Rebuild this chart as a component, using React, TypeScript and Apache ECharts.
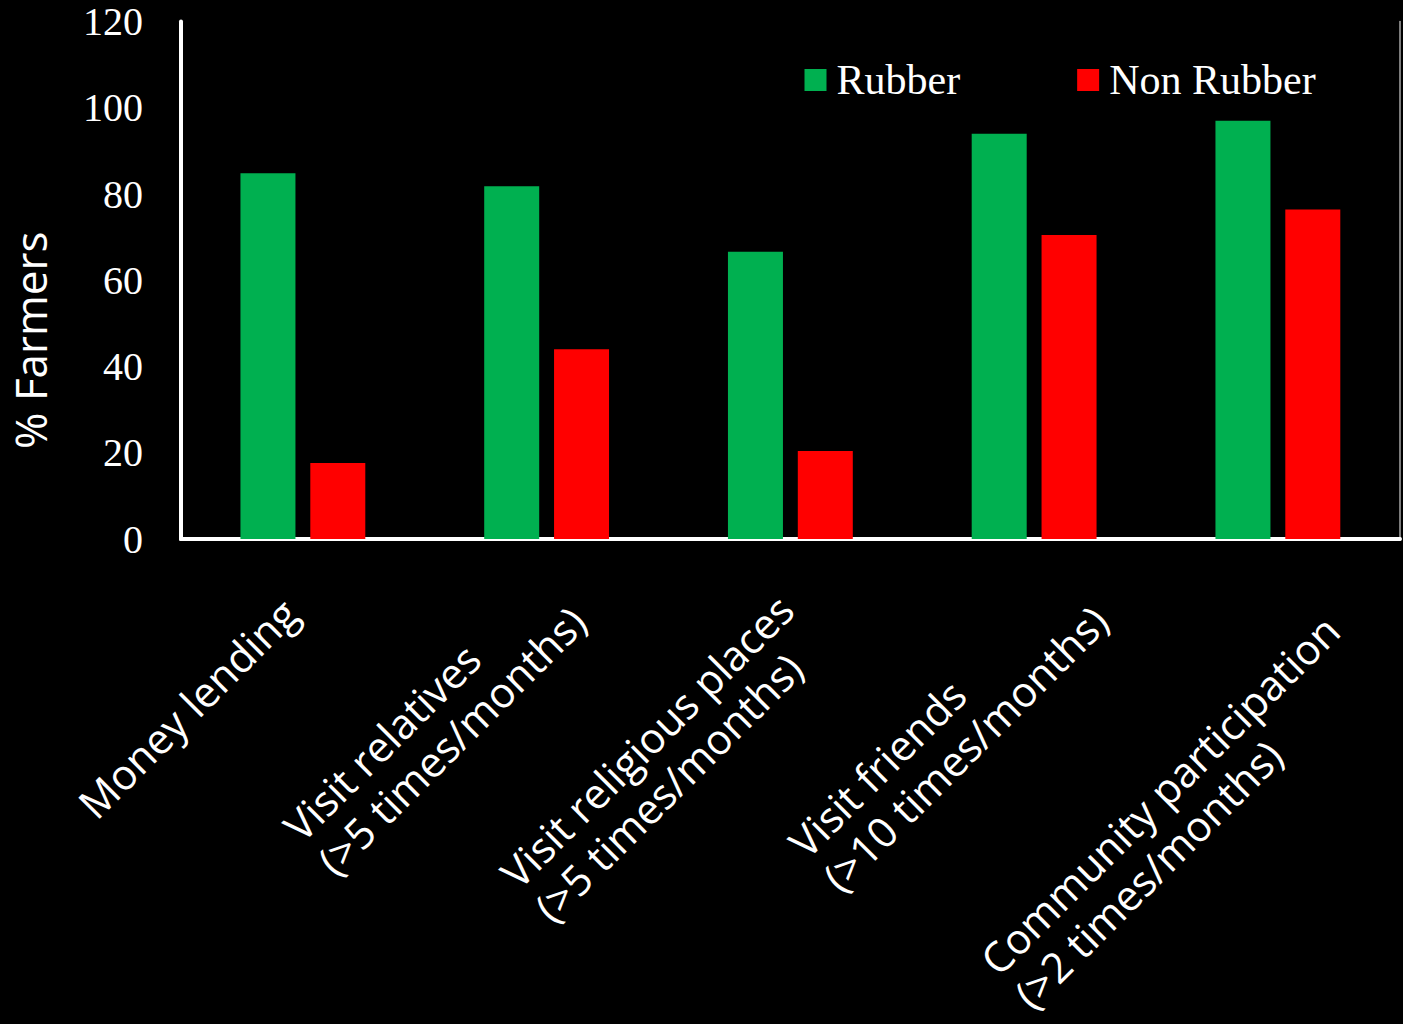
import React, { useEffect, useRef } from "react";
import * as echarts from "echarts";

// Category labels (each entry is one label, lines split by "\n")
const categories = [
  "Money lending",
  "Visit relatives\n(>5 times/months)",
  "Visit religious places\n(>5 times/months)",
  "Visit friends\n(>10 times/months)",
  "Community participation\n(>2 times/months)",
];
const seriesNames = ["Rubber", "Non Rubber"];
const rubber = [84.8, 81.8, 66.6, 94.0, 97.0];
const nonRubber = [17.6, 44.0, 20.4, 70.5, 76.4];
const yMin = 0;
const yMax = 120;
const yStep = 20;

// Label layout tweaks (px): pull back along the text direction, push across it
const labelBack = [50, 25, 42, 0, 15];
const labelAcross = [32, 45, 59, 69, 115];

const SANS = '"Open Sans", "Noto Sans", sans-serif';
const SERIF = '"Liberation Serif", "Times New Roman", serif';
const LABEL_SIZE = 42;
const LABEL_LINE = 48;

function textWidth(text: string, font: string): number {
  const c = document.createElement("canvas").getContext("2d");
  if (!c) return text.length * 20;
  c.font = font;
  return c.measureText(text).width;
}

// One rich style per label line: every line of a label gets the same box width
// so the lines stay left-aligned while the block hangs from its tick.
function buildRich() {
  const rich: Record<string, any> = {};
  categories.forEach((label, i) => {
    const lines = label.split("\n");
    const w = Math.ceil(
      Math.max(...lines.map((l) => textWidth(l, `${LABEL_SIZE}px ${SANS}`)))
    );
    const across = labelAcross[i];
    lines.forEach((_, j) => {
      rich[`c${i}l${j}`] = {
        width: w,
        align: "left",
        fontSize: LABEL_SIZE,
        fontFamily: SANS,
        color: "#ffffff",
        lineHeight: LABEL_LINE,
        padding: [
          across > 0 ? 2 * across : 0,
          labelBack[i],
          across < 0 ? -2 * across : 0,
          0,
        ],
      };
    });
  });
  return rich;
}

export default function App() {
  const ref = useRef<HTMLDivElement>(null);

  useEffect(() => {
    if (!ref.current) return;
    const chart = echarts.init(ref.current, undefined, { renderer: "svg" });
    const rich = buildRich();

    chart.setOption({
      animation: false,
      backgroundColor: "#000000",
      grid: {
        left: 181,
        right: 3.25,
        top: 21.5,
        bottom: 485,
        containLabel: false,
        outerBoundsMode: "none",
      },
      legend: {
        data: seriesNames,
        left: 804.5,
        top: 59,
        padding: 0,
        icon: "rect",
        itemWidth: 22,
        itemHeight: 22,
        itemGap: 117,
        textStyle: {
          color: "#ffffff",
          fontFamily: SERIF,
          fontSize: 42,
          padding: [0, 0, 0, 5],
        },
      },
      xAxis: [
        {
          type: "category",
          data: categories,
          position: "bottom",
          axisLine: { show: true, lineStyle: { color: "#ffffff", width: 4 } },
          axisTick: { show: false },
          splitLine: { show: false },
          axisLabel: {
            interval: 0,
            rotate: 45,
            margin: 8,
            color: "#ffffff",
            fontFamily: SANS,
            fontSize: LABEL_SIZE,
            formatter: (value: string, index: number) =>
              value
                .split("\n")
                .map((l, j) => `{c${index}l${j}|${l}}`)
                .join("\n"),
            rich,
          },
        },
        {
          // top edge of the plot frame
          type: "category",
          data: categories,
          position: "top",
          axisLine: { show: true, lineStyle: { color: "#ffffff", width: 4 } },
          axisTick: { show: false },
          axisLabel: { show: false },
          splitLine: { show: false },
        },
      ],
      yAxis: [
        {
          type: "value",
          min: yMin,
          max: yMax,
          interval: yStep,
          position: "left",
          axisLine: { show: true, lineStyle: { color: "#ffffff", width: 4 } },
          axisTick: { show: false },
          splitLine: { show: false },
          axisLabel: {
            color: "#ffffff",
            fontFamily: SERIF,
            fontSize: 40,
            margin: 38,
          },
          name: "% Farmers",
          nameLocation: "middle",
          nameRotate: 90,
          nameGap: 129,
          nameTextStyle: {
            color: "#ffffff",
            fontFamily: SANS,
            fontSize: 44,
            padding: [0, 120, 0, 0],
          },
        },
        {
          // right edge of the plot frame
          type: "value",
          min: yMin,
          max: yMax,
          interval: yStep,
          position: "right",
          axisLine: { show: true, lineStyle: { color: "#a6a6a6", width: 1.5 } },
          axisTick: { show: false },
          axisLabel: { show: false },
          splitLine: { show: false },
        },
      ],
      series: [
        {
          name: seriesNames[0],
          type: "bar",
          data: rubber,
          barWidth: 55,
          barGap: "27%",
          itemStyle: { color: "#00B050" },
        },
        {
          name: seriesNames[1],
          type: "bar",
          data: nonRubber,
          barWidth: 55,
          barGap: "27%",
          itemStyle: { color: "#FF0000" },
        },
      ],
    });

    return () => chart.dispose();
  }, []);

  return (
    <div
      ref={ref}
      style={{
        position: "fixed",
        left: 0,
        top: 0,
        width: 1403,
        height: 1024,
        background: "#000000",
      }}
    />
  );
}
